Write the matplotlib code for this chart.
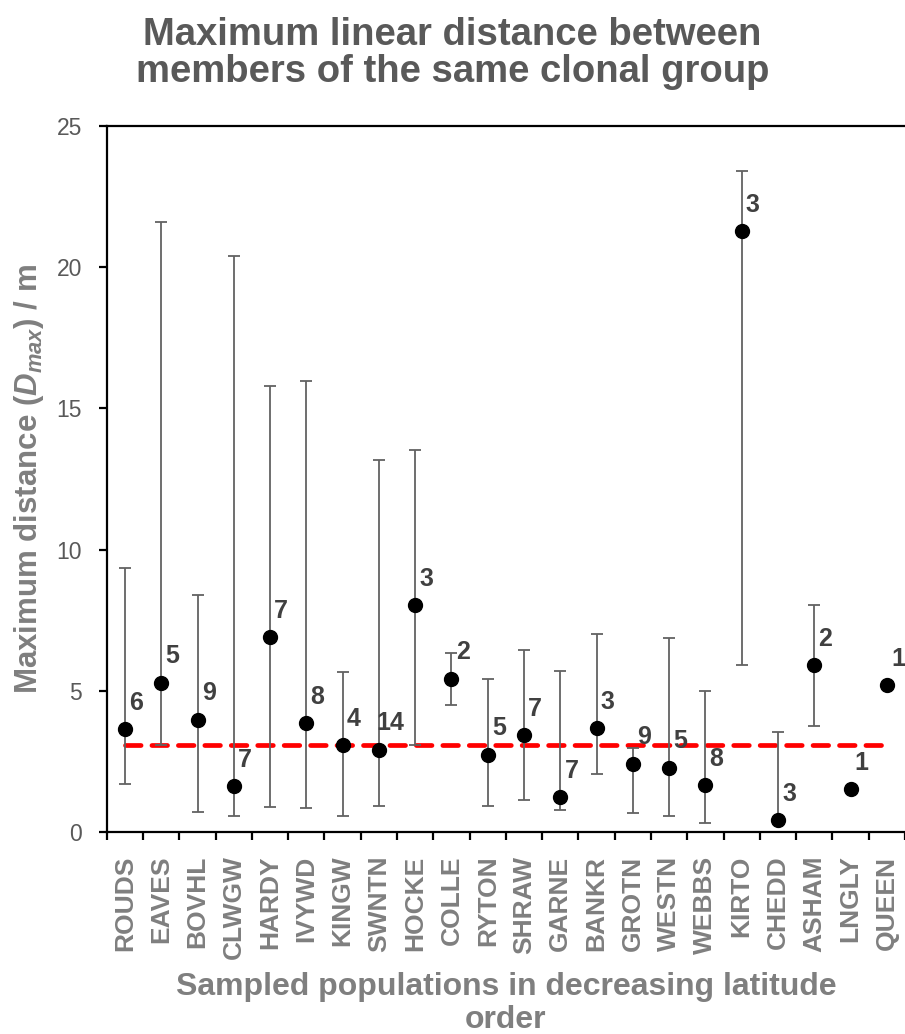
import numpy as np
import matplotlib
matplotlib.use('Agg')
from matplotlib import pyplot as plt
from matplotlib.ticker import FixedLocator

plt.rcParams['font.family'] = ['Liberation Sans', 'DejaVu Sans']
plt.rcParams['mathtext.fontset'] = 'custom'
plt.rcParams['mathtext.it'] = 'Liberation Sans:italic:bold'
plt.rcParams['mathtext.rm'] = 'Liberation Sans:bold'

# populations, north to south
populations = ['ROUDS', 'EAVES', 'BOVHL', 'CLWGW', 'HARDY', 'IVYWD', 'KINGW', 'SWNTN',
               'HOCKE', 'COLLE', 'RYTON', 'SHRAW', 'GARNE', 'BANKR', 'GROTN', 'WESTN',
               'WEBBS', 'KIRTO', 'CHEDD', 'ASHAM', 'LNGLY', 'QUEEN']
# Dmax per population (m)
d_max = [3.64, 5.28, 3.97, 1.63, 6.89, 3.86, 3.07, 2.92, 8.03, 5.42, 2.74,
         3.42, 1.23, 3.68, 2.42, 2.28, 1.65, 21.28, 0.41, 5.90, 1.51, 5.19]
# error bar ends
bar_top = [9.34, 21.61, 8.39, 20.40, 15.78, 15.98, 5.65, 13.19, 13.51, 6.34, 5.41,
           6.46, 5.70, 7.00, 2.96, 6.87, 4.98, 23.42, 3.54, 8.04, 1.51, 5.19]
bar_bottom = [1.69, 3.08, 0.70, 0.58, 0.89, 0.86, 0.58, 0.93, 3.08, 4.50, 0.92,
              1.13, 0.77, 2.07, 0.69, 0.58, 0.31, 5.90, 0.41, 3.74, 1.51, 5.19]
# number of clonal groups
n_groups = [6, 5, 9, 7, 7, 8, 4, 14, 3, 2, 5, 7, 7, 3, 9, 5, 8, 3, 3, 2, 1, 1]
overall_mean = 3.09

grey_dark = '#595959'
grey_light = '#7f7f7f'

fig = plt.figure(figsize=(9.05, 10.34), dpi=100)
ax = fig.add_axes([106.8 / 905, 1 - 832 / 1034, (905 - 106.8) / 905, 706 / 1034])

x = np.arange(len(populations))
d = np.array(d_max)
yerr = [d - np.array(bar_bottom), np.array(bar_top) - d]

# overall mean line
ax.plot([x[0], x[-1]], [overall_mean, overall_mean], color='red', lw=3.4,
        dashes=(3.3, 2.3), dash_capstyle='round', zorder=1)

ax.errorbar(x, d, yerr=yerr, fmt='none', ecolor='#626262', elinewidth=1.3,
            capsize=4.5, capthick=1.3, zorder=2)
ax.plot(x, d, 'o', color='black', markersize=10, zorder=3)

for xi, yi, n in zip(x, d_max, n_groups):
    ax.annotate(str(n), (xi, yi), xytext=(8, 14), textcoords='offset points',
                ha='center', va='baseline', fontsize=18, fontweight='bold',
                color='#404040', annotation_clip=False, zorder=4)

ax.set_xlim(-0.5, len(populations) - 0.5)
ax.set_ylim(0, 25)
ax.set_yticks([0, 5, 10, 15, 20, 25])

ax.set_xticks(x)
ax.set_xticklabels(populations, rotation=90, fontsize=19, fontweight='bold',
                   color=grey_light, va='top')
ax.xaxis.set_minor_locator(FixedLocator(np.arange(-0.5, len(populations), 1.0)))
ax.tick_params(axis='x', which='major', length=0, pad=17)
ax.tick_params(axis='x', which='minor', length=6, width=1.6, direction='out')
ax.tick_params(axis='y', length=6, width=1.6, direction='out', labelsize=16.5,
               labelcolor=grey_dark, pad=12)

for side in ['left', 'bottom', 'top']:
    ax.spines[side].set_linewidth(1.6)
ax.spines['right'].set_visible(False)

ax.set_ylabel(r'Maximum distance ($\mathit{D}_{\mathit{max}}$) / m', fontsize=22.5,
              fontweight='bold', color=grey_light, va='center')
ax.yaxis.set_label_coords(-0.097, 0.5)
ax.set_xlabel('Sampled populations in decreasing latitude\norder', fontsize=23,
              fontweight='bold', color=grey_light, va='top', linespacing=1.15)
ax.xaxis.set_label_coords(0.5, -0.198)

fig.text(0.5, 1 - 17 / 1034, 'Maximum linear distance between\nmembers of the same clonal group',
         ha='center', va='top', fontsize=27.5, fontweight='bold', color=grey_dark,
         linespacing=1.05)

fig.savefig('out.png', dpi=100)
